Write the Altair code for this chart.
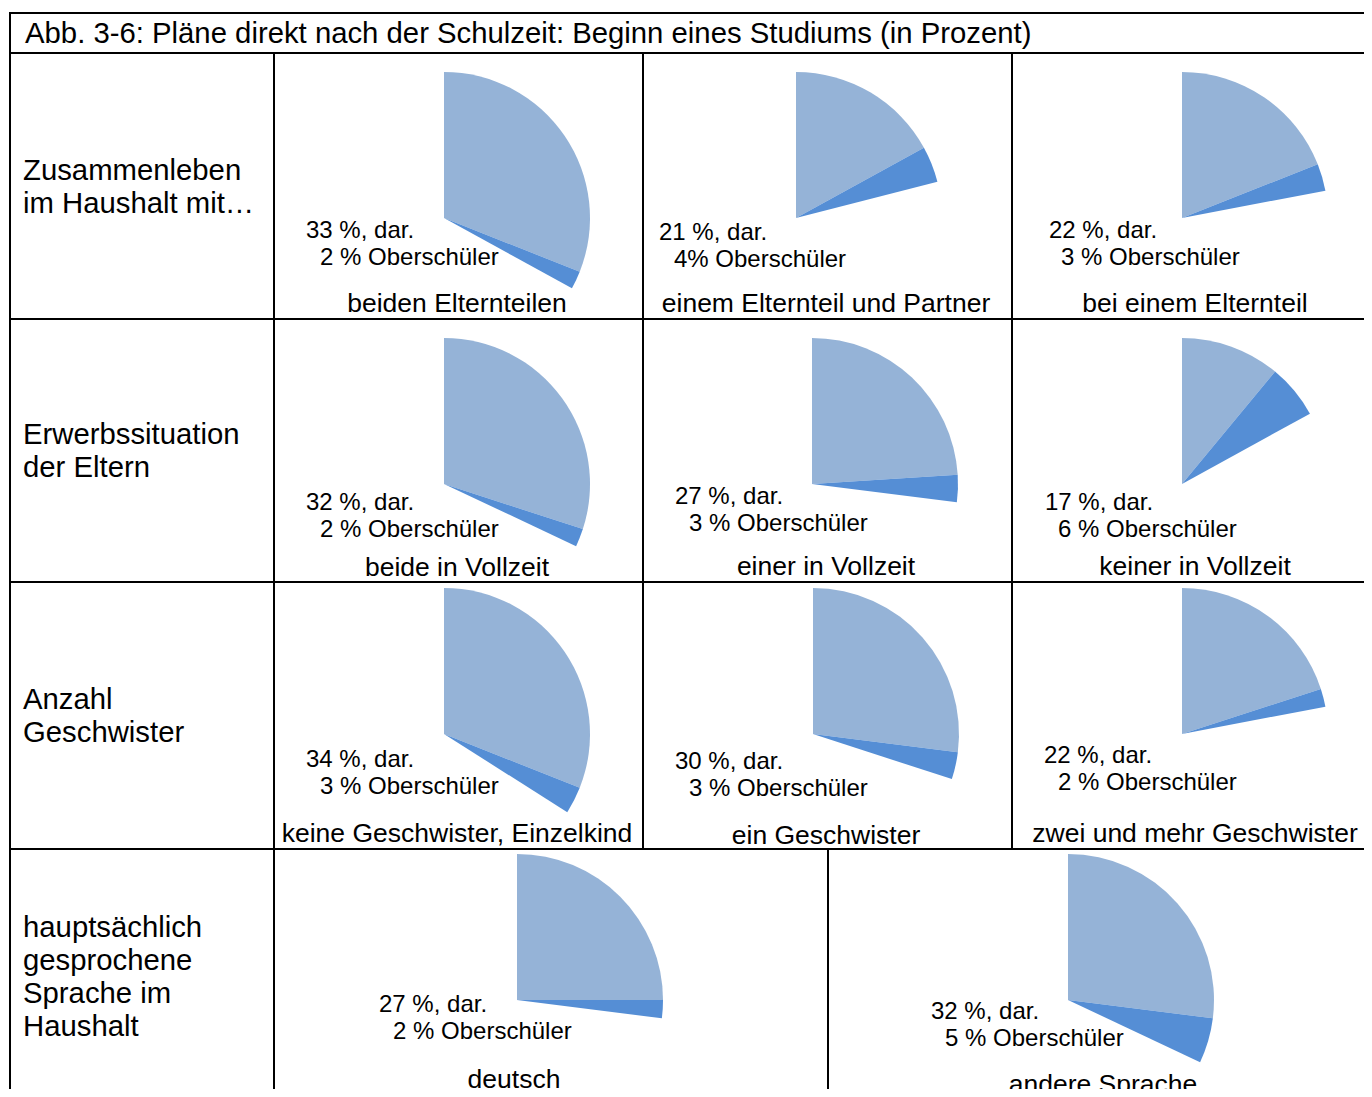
import math
import altair as alt
import pandas as pd

# ---------------- data ----------------
TITLE = "Abb. 3-6: Pläne direkt nach der Schulzeit: Beginn eines Studiums (in Prozent)"
GROUPS = [
    "Zusammenleben\nim Haushalt mit…",
    "Erwerbssituation\nder Eltern",
    "Anzahl\nGeschwister",
    "hauptsächlich\ngesprochene\nSprache im\nHaushalt",
]
CATEGORIES = [
    ["beiden Elternteilen", "einem Elternteil und Partner", "bei einem Elternteil"],
    ["beide in Vollzeit", "einer in Vollzeit", "keiner in Vollzeit"],
    ["keine Geschwister, Einzelkind", "ein Geschwister", "zwei und mehr Geschwister"],
    ["deutsch", "andere Sprache"],
]
TOTALS = [[33, 21, 22], [32, 27, 17], [34, 30, 22], [27, 32]]
OBER = [[2, 4, 3], [2, 3, 6], [3, 3, 2], [2, 5]]
PCT_SEP = [[" ", "", " "], [" ", " ", " "], [" ", " ", " "], [" ", " "]]

# ---------------- layout / style ----------------
FONT = "Liberation Sans"
LIGHT = "#95B3D7"
DARK = "#558ED5"
LINE_W = 2
W, H = 1355, 1077                      # table area (cut at the window edge like the reference)
ROW_TOP = [40, 306, 569, 836]          # top border of each table row (below the title row)
ROW_BOTTOM = [306, 569, 836, H]
COL_LEFT = [[264, 633, 1002], [264, 633, 1002], [264, 633, 1002], [264, 818]]
HEADER_CY = [135.5, 133.5, 135.5, 129.5]
HEADER_LH = 33
HEAD_FS = 29.3
R = 146
PIE_CX = [[171, 154, 171], [171, 170, 171], [171, 171, 171], [244, 241]]
PIE_CY = [166, 166, 153, 152]
LBL_X = [[33, 17, 38], [33, 33, 34], [33, 33, 33], [106, 104]]
LBL2_X = [[47, 32, 50], [47, 47, 47], [47, 47, 47], [120, 118]]
LBL_Y = [[179, 181, 179], [185, 179, 185], [179, 181, 175], [157, 164]]
CAT_X = [[184, 184, 184], [184, 184, 184], [184, 184, 184], [241, 276]]
CAT_Y = [[252, 252, 252], [250, 249, 249], [253, 255, 253], [232, 237]]

# ---------------- tables built from the lists above ----------------
arc_rows, lbl_rows, cat_rows, head_rows, rule_rows = [], [], [], [], []
# horizontal borders: table top, below title, and between rows
for yb in [0] + ROW_TOP:
    rule_rows.append({"x": 0, "x2": W, "y": yb + LINE_W / 2, "y2": yb + LINE_W / 2})
# left border of the title row
rule_rows.append({"x": LINE_W / 2, "x2": LINE_W / 2, "y": 0, "y2": ROW_TOP[0]})

for r in range(4):
    top, bottom = ROW_TOP[r], ROW_BOTTOM[r]
    for xb in [0] + COL_LEFT[r]:
        rule_rows.append({"x": xb + LINE_W / 2, "x2": xb + LINE_W / 2, "y": top, "y2": bottom})
    n = GROUPS[r].count("\n") + 1
    head_rows.append({"t": GROUPS[r], "x": 14, "y": top + HEADER_CY[r] - (n - 1) * HEADER_LH / 2})
    for c, left in enumerate(COL_LEFT[r]):
        total, ober = TOTALS[r][c], OBER[r][c]
        cx, cy = left + PIE_CX[r][c], top + PIE_CY[r]
        arc_rows.append({"cell": f"{r}-{c}", "part": "übrige", "start": 0, "end": total - ober, "cx": cx, "cy": cy})
        arc_rows.append({"cell": f"{r}-{c}", "part": "Oberschüler", "start": total - ober, "end": total, "cx": cx, "cy": cy})
        lbl_rows.append({"t": f"{total} %, dar.", "x": left + LBL_X[r][c], "y": top + LBL_Y[r][c]})
        lbl_rows.append({"t": f"{ober}{PCT_SEP[r][c]}% Oberschüler", "x": left + LBL2_X[r][c], "y": top + LBL_Y[r][c] + 26.5})
        cat_rows.append({"t": CATEGORIES[r][c], "x": left + CAT_X[r][c], "y": top + CAT_Y[r][c]})

PX = dict(scale=None, axis=None)

rules = alt.Chart(pd.DataFrame(rule_rows)).mark_rule(color="black", strokeWidth=LINE_W).encode(
    x=alt.X("x:Q", **PX), x2="x2:Q", y=alt.Y("y:Q", **PX), y2="y2:Q"
)

arcs = alt.Chart(pd.DataFrame(arc_rows)).mark_arc(radius=R).encode(
    theta=alt.Theta("start:Q", scale=alt.Scale(domain=[0, 100], range=[0, 2 * math.pi]), stack=None),
    theta2="end:Q",
    color=alt.Color("part:N", scale=alt.Scale(domain=["übrige", "Oberschüler"], range=[LIGHT, DARK]), legend=None),
    x=alt.X("cx:Q", **PX),
    y=alt.Y("cy:Q", **PX),
    detail="cell:N",
)


def texts(rows, size, align="left", **extra):
    return alt.Chart(pd.DataFrame(rows)).mark_text(
        align=align, baseline="middle", fontSize=size, font=FONT, color="black", **extra
    ).encode(text="t:N", x=alt.X("x:Q", **PX), y=alt.Y("y:Q", **PX))


title = texts([{"t": TITLE, "x": 16, "y": 22}], HEAD_FS)
headers = texts(head_rows, HEAD_FS, lineBreak="\n", lineHeight=HEADER_LH)
labels = texts(lbl_rows, 24)
cats = texts(cat_rows, 26.5, align="center")

chart = alt.layer(arcs, rules, title, headers, labels, cats).properties(
    width=W, height=H,
    padding={"left": 1, "top": 4, "right": 0, "bottom": 0},
    autosize=alt.AutoSizeParams(type="none"),
).configure_view(stroke="transparent", strokeWidth=0)

chart.save("out.html", embed_options={"renderer": "svg", "actions": False})
